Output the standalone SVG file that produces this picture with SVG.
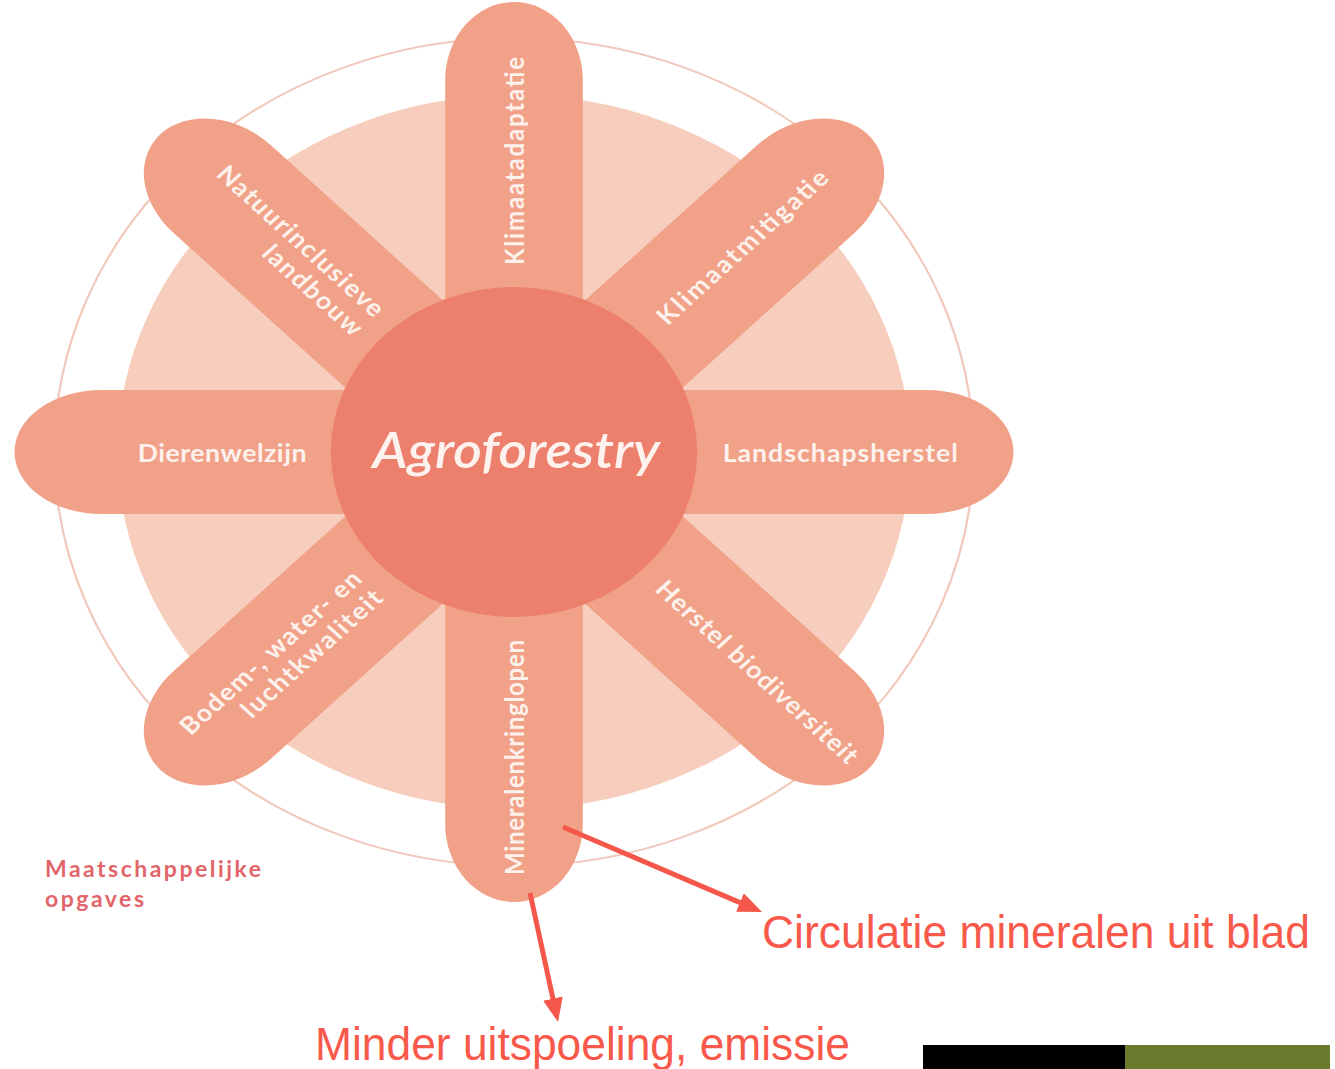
<svg xmlns="http://www.w3.org/2000/svg" width="1335" height="1069" viewBox="0 0 1335 1069">
<defs>
<style>
.petal{fill:#f1a188;}
.lbl{font-family:Lato,"Open Sans",sans-serif;font-weight:700;font-size:24px;fill:#fdf1ec;}
.note{font-family:"Liberation Sans Narrow","Liberation Sans",Arial,sans-serif;font-size:46px;fill:#f8594b;}
.arrow{stroke:#f5584a;stroke-width:5;fill:none;marker-end:url(#ah);}
</style>
<marker id="ah" viewBox="0 0 24 20" refX="4" refY="10" markerWidth="24" markerHeight="20" markerUnits="userSpaceOnUse" orient="auto">
<path d="M0,0 L24,10 L0,20 z" fill="#f5584a"/>
</marker>
<path id="pet" d="M0,-62 L372,-62 A78,62 0 0 1 372,62 L0,62 Z"/>
</defs>
<rect width="1335" height="1069" fill="#ffffff"/>
<g id="flower" transform="translate(514,452) scale(1.11,1)">
<circle id="ring" r="414" fill="none" stroke="#f1c8bb" stroke-width="2"/>
<circle id="disk" r="357" fill="#f7cdbe"/>
<g id="petals" class="petal">
<use href="#pet" transform="rotate(-90)"/>
<use href="#pet" transform="rotate(-45)"/>
<use href="#pet" transform="rotate(0)"/>
<use href="#pet" transform="rotate(45)"/>
<use href="#pet" transform="rotate(90)"/>
<use href="#pet" transform="rotate(135)"/>
<use href="#pet" transform="rotate(180)"/>
<use href="#pet" transform="rotate(225)"/>
</g>
<g id="center">
<circle r="165" fill="#ed806d"/>
<text x="2" y="16" text-anchor="middle" font-family="Lato,'Open Sans',sans-serif" font-style="italic" font-weight="600" font-size="50" fill="#fdf2ee" textLength="259" lengthAdjust="spacingAndGlyphs">Agroforestry</text>
</g>
<g id="n-klimaatadaptatie"><text class="lbl" transform="rotate(-90)" x="187" y="9" textLength="208" lengthAdjust="spacing">Klimaatadaptatie</text></g>
<g id="n-klimaatmitigatie"><text class="lbl" transform="rotate(-45)" x="187" y="9" textLength="207" lengthAdjust="spacing">Klimaatmitigatie</text></g>
<g id="n-landschapsherstel"><text class="lbl" x="188" y="10" textLength="212" lengthAdjust="spacing">Landschapsherstel</text></g>
<g id="n-herstel"><text class="lbl" transform="rotate(45)" x="187" y="9" textLength="247" lengthAdjust="spacing">Herstel biodiversiteit</text></g>
<g id="n-mineralen"><text class="lbl" transform="rotate(-90)" x="-188" y="9" text-anchor="end" textLength="235" lengthAdjust="spacing">Mineralenkringlopen</text></g>
<g id="n-bodem"><text class="lbl" transform="rotate(-45)" text-anchor="end"><tspan x="-187" y="-5" textLength="220" lengthAdjust="spacing">Bodem-, water- en</tspan><tspan x="-187" y="22" textLength="169" lengthAdjust="spacing">luchtkwaliteit</tspan></text></g>
<g id="n-dierenwelzijn"><text class="lbl" x="-187" y="10" text-anchor="end" textLength="152" lengthAdjust="spacing">Dierenwelzijn</text></g>
<g id="n-natuur"><text class="lbl" transform="rotate(45)" text-anchor="end"><tspan x="-184" y="-5" textLength="202" lengthAdjust="spacing">Natuurinclusieve</tspan><tspan x="-184" y="22" textLength="117" lengthAdjust="spacing">landbouw</tspan></text></g>
</g>
<g id="n-maatschappelijk">
<text font-family="Lato,'Open Sans',sans-serif" font-weight="700" font-size="23" fill="#e2656a"><tspan x="45" y="877" textLength="216" lengthAdjust="spacing">Maatschappelijke</tspan><tspan x="45" y="907" textLength="99" lengthAdjust="spacing">opgaves</tspan></text>
</g>
<g id="connectors">
<line class="arrow" x1="563" y1="827" x2="743.6" y2="904.1"/>
<line class="arrow" x1="530" y1="893" x2="553.8" y2="1002.5"/>
</g>
<g id="n-circulatie"><text class="note" x="762" y="948" textLength="548" lengthAdjust="spacingAndGlyphs">Circulatie mineralen uit blad</text></g>
<g id="n-minder"><text class="note" x="315" y="1060" textLength="535" lengthAdjust="spacingAndGlyphs">Minder uitspoeling, emissie</text></g>
<g id="bar">
<rect x="923" y="1045" width="202" height="24" fill="#000000"/>
<rect x="1125" y="1045" width="205" height="24" fill="#6a7b2e"/>
</g>
</svg>
